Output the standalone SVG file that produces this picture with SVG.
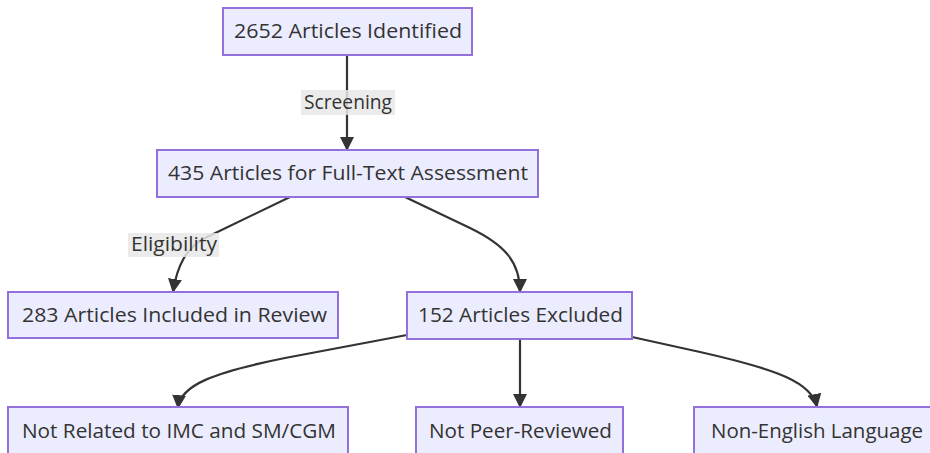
<svg xmlns="http://www.w3.org/2000/svg" width="930" height="453" viewBox="0 0 930 453">
<defs>
<marker id="arrow" viewBox="0 0 14 14" refX="13" refY="7" markerWidth="14" markerHeight="14" markerUnits="userSpaceOnUse" orient="auto">
<path d="M0,0 L14,7 L0,14 z" fill="#333333"/>
</marker>
<style>
.node rect{fill:#ECECFF;stroke:#9370DB;stroke-width:2;}
.node text,.label text{font-family:"Trebuchet MS","Open Sans","Liberation Sans",sans-serif;font-size:19.5px;fill:#333333;text-anchor:middle;}
.edge{fill:none;stroke:#333333;stroke-width:2.2;marker-end:url(#arrow);}
.label rect{fill:#e8e8e8;opacity:0.85;}
</style>
</defs>
<rect width="930" height="453" fill="#ffffff"/>
<g id="connectors">
<path class="edge" d="M347,55 L347,150"/>
<path class="edge" d="M290,197 L205,238 C186,248 177,266 173,292"/>
<path class="edge" d="M405,197 L470,228 C505,245 520,262 520,292"/>
<path class="edge" d="M407,335 L285,358 C215,372 180,385 178,408"/>
<path class="edge" d="M520,339 L520,407"/>
<path class="edge" d="M632,337 L700,352 C780,370 812,383 817,407"/>
</g>
<g id="label-screening" class="label"><rect x="301" y="90" width="94" height="25"/><text x="348" y="109" textLength="88" lengthAdjust="spacingAndGlyphs">Screening</text></g>
<g id="label-eligibility" class="label"><rect x="128" y="233" width="91" height="24"/><text x="174" y="251" textLength="86" lengthAdjust="spacingAndGlyphs">Eligibility</text></g>
<g id="n1" class="node"><rect x="223" y="8" width="249" height="47"/><text x="348" y="38" textLength="228" lengthAdjust="spacingAndGlyphs">2652 Articles Identified</text></g>
<g id="n2" class="node"><rect x="157" y="150" width="381" height="47"/><text x="348" y="180" textLength="360" lengthAdjust="spacingAndGlyphs">435 Articles for Full-Text Assessment</text></g>
<g id="n3" class="node"><rect x="8" y="292" width="330" height="46"/><text x="174.5" y="322" textLength="305" lengthAdjust="spacingAndGlyphs">283 Articles Included in Review</text></g>
<g id="n4" class="node"><rect x="407" y="292" width="225" height="47"/><text x="520.5" y="322" textLength="205" lengthAdjust="spacingAndGlyphs">152 Articles Excluded</text></g>
<g id="n5" class="node"><rect x="8" y="407" width="340" height="47"/><text x="179" y="438" textLength="314" lengthAdjust="spacingAndGlyphs">Not Related to IMC and SM/CGM</text></g>
<g id="n6" class="node"><rect x="416" y="407" width="207" height="47"/><text x="520.5" y="438" textLength="183" lengthAdjust="spacingAndGlyphs">Not Peer-Reviewed</text></g>
<g id="n7" class="node"><rect x="694" y="407" width="246" height="47"/><text x="817" y="438" textLength="212" lengthAdjust="spacingAndGlyphs">Non-English Language</text></g>
</svg>
